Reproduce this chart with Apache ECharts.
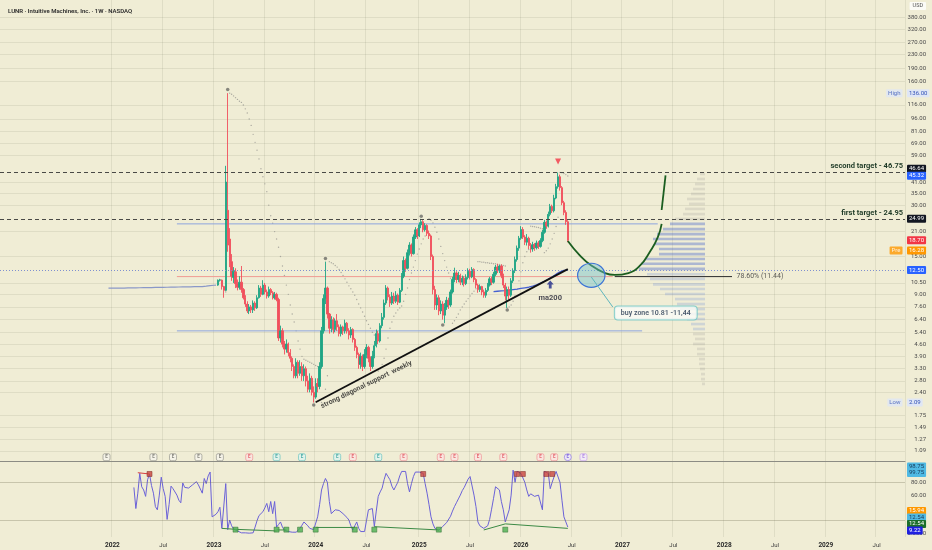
<!DOCTYPE html>
<html><head><meta charset="utf-8">
<script src="https://cdn.jsdelivr.net/npm/echarts@6/dist/echarts.min.js"></script>
<style>html,body{margin:0;padding:0;background:#f0edd5}#c{width:932px;height:550px}</style>
</head><body><div id="c"></div>
<script>
// ---------------- data ----------------
const weekStartUTC = [2020, 10, 30];   // first weekly bar (Mon 2020-11-30)
const weekCount = 463;
const firstLabelYear = 2022;

// pre-merger (SPAC) weekly closes, starting at week index 55
const spacStart = 55;
const spacClose = [9.80,9.78,9.79,9.81,9.80,9.79,9.81,9.82,9.80,9.82,
  9.83,9.81,9.83,9.84,9.83,9.85,9.84,9.86,9.85,9.87,
  9.86,9.88,9.87,9.89,9.88,9.90,9.89,9.91,9.90,9.92,
  9.91,9.93,9.92,9.94,9.93,9.95,9.94,9.96,9.95,9.97,
  9.96,9.98,9.97,9.99,10.00,9.99,10.01,10.02,10.00,10.03,
  10.05,10.08,10.12,10.15,10.18,10.20];

// weekly candles, starting at week index 111
const candleStart = 111;
const opens = [10.2,10.9,10.9,10.0,
  9.5,28,19,14,11.3,12.2,10.4,9.9,10.6,9.6,
  8.6,7.9,7.2,7.6,7.3,8.0,7.5,8.6,9.8,9.0,
  10.2,9.3,8.8,9.6,9.2,8.6,9.0,8.4,5.0,5.5,
  4.6,4.3,4.6,4.1,3.8,3.4,3.0,3.6,3.1,3.4,
  3.0,3.3,2.8,2.5,2.9,2.4,2.25,2.7,2.6,3.4,
  5.5,8.5,9.8,6.9,5.7,6.4,5.6,6.3,5.8,5.3,
  5.8,5.5,6.1,5.5,5.2,5.6,4.9,4.4,4.0,3.5,
  3.9,3.4,4.0,4.4,3.8,3.4,3.9,4.5,5.3,4.8,
  5.9,6.6,8.0,9.8,8.7,8.0,8.8,8.2,8.9,8.1,
  9.5,11.5,14.2,12.8,15.8,17.5,15.6,19.5,21.5,19.8,
  23.0,24.0,21.5,22.8,20.5,19.8,15.0,9.6,7.8,8.6,
  7.2,7.9,6.8,7.6,8.3,7.8,9.3,11.0,12.0,11.0,
  11.6,10.6,11.2,10.4,11.3,12.3,11.4,12.6,11.0,10.2,
  9.6,10.0,9.3,8.9,9.5,10.2,11.1,10.6,11.8,13.0,
  12.4,13.2,11.6,10.2,8.8,9.6,8.9,10.8,12.4,14.4,
  16.8,19.2,21.6,19.5,18.2,19.2,17.4,16.6,17.6,16.9,
  18.0,17.2,18.6,20.8,23.8,22.6,26.5,29.5,27.8,33.0,
  38.5,44.0,38.0,31.0,27.2,24.0];
const closes = [10.9,10.95,10.0,9.5,
  41,17.5,14,11.5,12.3,10.4,9.9,10.6,9.6,8.6,
  7.9,7.2,7.6,7.3,8.0,7.5,8.6,9.8,9.0,10.2,
  9.3,8.8,9.6,9.2,8.6,9.0,8.4,5.0,5.5,4.6,
  4.3,4.6,4.1,3.8,3.4,3.0,3.6,3.1,3.4,3.0,
  3.3,2.8,2.5,2.9,2.4,2.25,2.7,2.6,3.4,5.5,
  8.5,9.8,6.9,5.7,6.4,5.6,6.3,5.8,5.3,5.8,
  5.5,6.1,5.5,5.2,5.6,4.9,4.4,4.0,3.5,3.9,
  3.4,4.0,4.4,3.8,3.4,3.9,4.5,5.3,4.8,5.9,
  6.6,8.0,9.8,8.7,8.0,8.8,8.2,8.9,8.1,9.5,
  11.5,14.2,12.8,15.8,17.5,15.6,19.5,21.5,19.8,23.0,
  24.0,21.5,22.8,20.5,19.8,15.0,9.6,7.8,8.6,7.2,
  7.9,6.8,7.6,8.3,7.8,9.3,11.0,12.0,11.0,11.6,
  10.6,11.2,10.4,11.3,12.3,11.4,12.6,11.0,10.2,9.6,
  10.0,9.3,8.9,9.5,10.2,11.1,10.6,11.8,13.0,12.4,
  13.2,11.6,10.2,8.8,9.6,8.9,10.8,12.4,14.4,16.8,
  19.2,21.6,19.5,18.2,19.2,17.4,16.6,17.6,16.9,18.0,
  17.2,18.6,20.8,23.8,22.6,26.5,29.5,27.8,33.0,38.5,
  44.0,38.0,31.0,27.2,24.0,18.70];
const lows = [10.1,10.7,9.6,8.6,
  9.4,16,13,10.8,10.5,9.8,9.5,9.6,9.2,8.4,
  7.6,7.0,6.9,7.0,7.0,7.2,7.4,8.5,8.7,8.9,
  9.0,8.5,8.6,8.9,8.4,8.4,8.2,4.8,4.7,4.4,
  4.0,4.1,3.9,3.6,3.2,2.9,2.9,2.9,3.0,2.8,
  2.8,2.6,2.4,2.4,2.3,2.09,2.2,2.4,2.5,3.3,
  5.3,7.9,6.5,5.3,5.4,5.3,5.4,5.5,5.1,5.1,
  5.2,5.3,5.3,4.9,5.0,4.7,4.2,3.8,3.3,3.3,
  3.2,3.3,3.8,3.6,3.2,3.3,3.8,4.4,4.6,4.7,
  5.7,6.4,7.8,8.3,7.6,7.8,7.9,8.0,7.8,8.0,
  9.3,11.2,12.2,12.6,15.2,15.0,15.4,19.0,19.0,19.5,
  22.0,20.8,21.0,19.8,19.0,14.3,9.0,7.3,7.3,6.8,
  6.9,6.4,6.1,7.3,7.4,7.6,9.1,10.6,10.5,10.6,
  10.2,10.2,10.0,10.2,11.0,11.0,11.2,10.6,9.8,9.2,
  9.3,8.9,8.6,8.6,9.3,10.0,10.2,10.4,11.5,12.0,
  12.0,11.2,9.8,8.3,7.5,8.4,8.7,10.5,12.0,14.0,
  16.2,18.8,19.0,17.5,17.4,16.6,15.8,16.0,16.2,16.5,
  16.6,16.9,18.2,20.4,21.8,22.2,25.8,27.0,27.2,32.5,
  37.5,36.5,30.0,26.2,23.0,18.2];
const highs = [11.0,11.1,11.0,10.1,
  51,136,22,15.5,13,12.8,11.0,11.5,13.2,9.8,
  8.9,8.2,7.9,7.8,8.3,8.2,8.9,10.2,10.1,10.9,
  10.5,9.6,10.0,9.8,9.4,9.3,9.2,8.6,5.9,5.7,
  4.8,4.9,4.7,4.3,3.9,3.5,3.8,3.7,3.7,3.6,
  3.5,3.4,3.0,3.1,3.0,2.6,2.9,2.9,3.6,5.8,
  9.0,14.0,10.0,7.0,6.7,6.6,6.5,6.9,6.0,6.0,
  5.9,6.4,6.2,5.7,5.8,5.7,5.0,4.5,4.1,4.1,
  4.0,4.3,4.6,4.5,3.9,4.2,4.8,5.6,5.5,6.1,
  7.0,8.4,10.2,10.0,9.0,9.3,9.2,9.4,9.1,9.8,
  12.0,15.0,14.6,16.5,18.2,17.9,20.2,22.3,22.0,23.8,
  24.95,24.5,23.5,23.2,21.3,20.2,15.4,10.1,9.0,8.9,
  8.3,8.2,8.0,8.7,8.6,9.6,11.4,12.9,12.3,12.2,
  11.9,11.6,11.5,11.8,12.8,12.7,13.0,12.8,11.2,10.4,
  10.3,10.1,9.6,9.8,10.5,11.4,11.4,12.2,13.4,13.6,
  13.4,13.5,11.9,10.5,10.0,10.0,11.2,12.8,15.0,17.4,
  19.8,22.6,22.3,20.0,20.3,19.6,18.0,18.3,18.0,18.6,
  18.5,19.2,21.5,24.6,24.4,27.5,30.5,30.2,34.5,40.0,
  46.64,45.32,38.8,31.8,28.0,24.5];

// parabolic SAR dots, starting at week index 115
const sarStart = 115;
const sar = [9.3,null,136,134,131,128,125,122,120,116,
  110,104,96,88,78,70,63,56,49,44,
  40,36,30,26,23.5,21,19,17,15,13.2,
  11.6,10.2,9.0,7.8,6.9,6.2,5.5,4.8,4.3,3.9,
  3.75,3.7,3.65,3.6,3.55,3.5,3.45,3.4,3.35,2.09,
  2.2,2.5,3.0,14.0,13.8,13.6,13.3,13.0,12.6,12.1,
  11.6,11.1,10.6,10.1,9.7,9.3,8.9,8.4,7.9,7.5,
  7.1,6.7,6.3,6.0,5.7,5.4,5.2,5.0,3.2,3.3,
  3.5,3.8,4.3,5.0,5.7,6.2,6.7,7.0,7.3,7.5,
  7.7,8.2,9.0,9.8,11.0,12.0,13.0,14.2,15.5,16.6,
  17.8,19.0,19.8,null,24.95,24.5,23.6,22.3,20.8,19.0,
  17.2,15.6,14.2,13.0,12.0,11.2,6.1,6.3,6.6,6.9,
  7.3,7.6,7.9,8.2,8.5,8.8,9.1,9.4,9.7,14.0,
  14.0,13.9,13.9,13.8,13.8,13.7,13.7,13.6,13.6,13.5,
  13.5,13.4,13.3,13.2,7.5,7.6,7.8,8.2,8.8,9.6,
  10.8,12.2,13.8,15.0,16.0,16.5,22.6,22.5,22.4,22.3,
  22.2,22.0,21.8,15.8,16.2,16.8,17.8,19.0,20.5,22.5,
  25.5,46.64,46.5,46.0,45.3,44.5];

// 200-week moving average, starting at week index 252
const ma200Start = 252;
const ma200 = [9.35,9.37,9.39,9.41,9.43,9.45,9.47,9.50,9.53,9.56,
  9.60,9.63,9.67,9.71,9.75,9.79,9.83,9.87,9.91,9.96,
  10.05,10.14,10.24,10.35,10.47,10.60,10.75,10.90,11.07,11.24,
  11.42,11.62,11.82,12.02,12.20,12.35,12.44,12.48,12.50];

// oscillator (stoch RSI %K), starting at week index 68
const oscStart = 68;
const oscK = [72,39,63,94,73,68,58,84,93,75,
  63,42,37,60,88,70,58,22,45,74,
  70,68,60,52,48,79,72,69,71,74,
  76,78,81,76,73,63,86,78,90,96,
  26,26,30,34,41,8,6,78,6,21,
  12,7,5,4,2,1,1,1,0.5,0.5,
  1,1,10,20,28,30,34,40,47,34,
  50,31,50,10,14,18,10,5,4,3,
  3,2,2,2,5,8,13,18,18,12,
  8,7,6,7,26,45,68,78,86,80,
  50,31,34,37,39,36,33,31,28,25,
  21,12,5,12,18,8,3,3,3,20,
  37,38,39,11,35,58,65,71,84,94,
  89,84,74,68,74,80,90,97,97,97,
  78,65,78,89,96,99,96,94,94,78,
  63,45,26,15,8,5,5,8,11,14,
  17,20,27,35,42,48,54,60,67,72,
  71,85,89,89,60,42,18,12,10,8,
  5,12,22,38,55,73,74,68,50,37,
  18,15,37,60,99,80,97,95,94,92,
  80,68,58,62,63,58,59,60,58,37,
  97,95,94,70,80,89,97,99,80,52,
  26,18,10];

// tick labels
const priceTicks = [380,320,270,230,190,160,116,96,81,69,59,41,35,30,21,15,10.5,9,7.6,6.4,5.4,4.6,3.9,3.3,2.8,2.4,1.75,1.49,1.27,1.09];
const oscTicks = [0,60,80];

// drawn levels and annotations (week index, price)
const secondTarget = 46.75, firstTarget = 24.95, fibLevel = 11.44;
const lastClose = 18.70, preMarket = 16.28, allHigh = 136, allLow = 2.09, maLast = 12.50;
const supportLine = [[161, 2.1], [290, 12.65]];
const upperBlue = [[90, 23.3], [336, 23.3]];
const lowerBlue = [[90, 5.5], [328, 5.5]];
const fibRed = [[90, fibLevel], [313, fibLevel]];
const fibBlack = [[314, fibLevel], [374, fibLevel]];
const pathDown = [[290,18.5],[296,15.3],[302,13.3],[309,12.0],[314,11.7],[321,12.0],[327,13.3],[332,16.0],[336,19.4],[338,23.3]];
const pathUp = [[338,28.1],[340,44.8]];
const buyZone = [295, 309, 9.9, 13.7];
const buyLeader = [[302, 11.38], [313, 7.59]];
const pivots = [[116,143],[166,14.6],[215,25.8],[160,2.02],[226,5.95],[259,7.3]];
const topSignal = [285, 54];

// volume profile (price level, volume)
const vpPrice = [45.7,42.7,39.9,37.3,34.9,32.6,30.5,28.5,26.6,24.9,23.3,21.7,20.3,19.0,17.8,16.6,15.5,14.5,13.6,12.7,11.8,11.1,10.3,9.67,9.04,8.45,7.90,7.38,6.90,6.45,6.03,5.64,5.27,4.93,4.61,4.31,4.02,3.76,3.52,3.29,3.07,2.87,2.69];
const vpVol = [5,8,10,12,14,18,16,20,22,30,35,42,48,52,50,46,46,60,64,66,58,55,52,45,40,30,28,25,22,18,14,12,12,10,12,8,8,6,6,5,4,4,3];

// earnings markers (week index, kind)
const earnIdx = [54,78,88,101,112,127,141,154,172,180,193,206,225,232,244,257,276,283,290,298];
const earnKind = ['p','p','p','p','p','r','t','t','t','r','t','r','r','r','r','r','r','r','n','f'];

// oscillator signals
const oscBull = [120,141,146,153,161,181,191,224,258];
const oscBear = [76,216,264,267,279,282];
const oscBullLines = [[[113,8],[120,6.5]],[[120,6.5],[141,4]],[[141,5.5],[146,5.5]],[[161,9.4],[181,9.4]],[[191,10.6],[224,5.5]],[[247,5.5],[258,15]],[[258,15],[290,8]]];
const oscBearLines = [[[70,95],[76,93]]];

// ---------------- build ----------------
const weeks = [];
const t0 = Date.UTC(weekStartUTC[0], weekStartUTC[1], weekStartUTC[2]);
for (let n = 0; n < weekCount; n++) weeks.push(new Date(t0 + n * 7 * 864e5).toISOString().slice(0, 10));
const isMark = (idx) => {
  const w = weeks[idx]; if (!w) return false;
  const m = w.slice(5, 7);
  if (m !== '01' && m !== '07') return false;
  if (+w.slice(0, 4) < firstLabelYear) return false;
  return idx === 0 || weeks[idx - 1].slice(5, 7) !== m;
};
const gridColor = 'rgba(110,105,80,0.12)';

const candles = opens.map((o, n) => [candleStart + n, o, closes[n], lows[n], highs[n]]);
const spacData = spacClose.map((v, n) => [spacStart + n, v]);
const sarData = sar.map((v, n) => v == null ? null : [sarStart + n, v]).filter(Boolean);
const maData = ma200.map((v, n) => [ma200Start + n, v]);
const oscData = oscK.map((v, n) => [oscStart + n, v]);
const vpData = vpPrice.map((p, n) => [vpVol[n], p]);

const earnStyle = {
  p: {fill: '#f6f4ec', border: '#8d8d86', text: '#6a6a64', sym: 'roundRect'},
  r: {fill: '#fbe3e1', border: '#ef8a8f', text: '#e04a55', sym: 'roundRect'},
  t: {fill: '#dff2ef', border: '#5fc0bd', text: '#2b9c99', sym: 'roundRect'},
  n: {fill: '#ece6fb', border: '#8a6ee8', text: '#6a4ed8', sym: 'circle'},
  f: {fill: '#f3eafd', border: '#c39af0', text: '#a170e0', sym: 'roundRect'}
};
const earnData = earnIdx.map((i, n) => {
  const s = earnStyle[earnKind[n]];
  return {value: [i, 1.0], symbol: s.sym, itemStyle: {color: s.fill, borderColor: s.border, borderWidth: 0.8},
    label: {show: true, formatter: 'E', color: s.text, fontSize: 4.5, fontWeight: 'bold'}};
});

const note = (at, text, label) => ({value: at, label: Object.assign({show: true, formatter: text}, label)});
const badge = (bg, fg) => ({backgroundColor: bg, color: fg, padding: [1, 2], fontSize: 6, borderRadius: 1});

const vpColor = (p) => p > 24.5 ? 'rgba(160,160,155,0.25)' : (p > 12.3 ? 'rgba(92,118,205,0.45)' : (p > 5.45 ? 'rgba(120,146,215,0.28)' : 'rgba(160,160,155,0.25)'));

const lineSeries = (data, color, width, extra) => Object.assign({
  type: 'line', xAxisIndex: 0, yAxisIndex: 0, data, symbol: 'none', silent: true,
  lineStyle: {color, width}, z: 3
}, extra || {});

const series = [
  // volume profile
  {type: 'custom', xAxisIndex: 2, yAxisIndex: 2, data: vpData, silent: true, z: 1,
    encode: {x: 0, y: 1},
    renderItem: (params, api) => {
      const v = api.value(0), p = api.value(1);
      const a = api.coord([0, p * 1.018]), b = api.coord([v, p / 1.018]);
      return {type: 'rect', shape: {x: b[0], y: a[1], width: a[0] - b[0], height: b[1] - a[1]}, style: {fill: vpColor(p)}};
    }},
  // horizontal drawn levels
  lineSeries(upperBlue, '#8ea4de', 1),
  lineSeries(lowerBlue, '#8ea4de', 1),
  lineSeries(fibRed, '#f09a92', 1),
  lineSeries(fibBlack, '#2a2a2a', 1),
  // SPAC line
  lineSeries(spacData, '#8a98c8', 1.2),
  // SAR dots
  {type: 'scatter', xAxisIndex: 0, yAxisIndex: 0, data: sarData, symbolSize: 1.4, silent: true,
    itemStyle: {color: '#9a9992'}, z: 2},
  // candles
  {type: 'candlestick', xAxisIndex: 0, yAxisIndex: 0, data: candles, barWidth: 1.8, silent: true, z: 4,
    large: false, progressive: 0,
    dimensions: ['t', 'open', 'close', 'lowest', 'highest'],
    encode: {x: 't', y: ['open', 'close', 'lowest', 'highest']},
    itemStyle: {color: '#1fa584', color0: '#f0505c', borderColor: '#1fa584', borderColor0: '#f0505c', borderWidth: 0.9},
    markLine: {silent: true, symbol: ['none', 'none'], animation: false,
      data: [
        {yAxis: secondTarget, lineStyle: {type: [4, 3], color: '#4a4a46', width: 1.2},
          label: {position: 'insideEndTop', distance: 2, formatter: 'second target - 46.75', color: '#1e3a26', fontSize: 7.5, fontWeight: 'bold'}},
        {yAxis: firstTarget, lineStyle: {type: [4, 3], color: '#4a4a46', width: 1.2},
          label: {position: 'insideEndTop', distance: 2, formatter: 'first target - 24.95', color: '#1e3a26', fontSize: 7.5, fontWeight: 'bold'}},
        {yAxis: secondTarget, lineStyle: {color: 'transparent'},
          label: {position: 'end', distance: 2, formatter: '{k|46.64}\n{b|45.32}', lineHeight: 7,
            rich: {k: badge('#131722', '#fff'), b: badge('#2962ff', '#fff')}}},
        {yAxis: firstTarget, lineStyle: {color: 'transparent'},
          label: Object.assign({position: 'end', distance: 2, formatter: '24.99'}, badge('#131722', '#fff'))},
        {yAxis: lastClose, lineStyle: {color: 'transparent'},
          label: Object.assign({position: 'end', distance: 2, formatter: '18.70'}, badge('#f23645', '#fff'))},
        {yAxis: preMarket, lineStyle: {color: 'transparent'},
          label: Object.assign({position: 'end', distance: 2, formatter: '16.28'}, badge('#ff9800', '#fff'))},
        {yAxis: allHigh, lineStyle: {color: 'transparent'},
          label: Object.assign({position: 'end', distance: 2, formatter: '136.00'}, badge('#dfe6f5', '#3352b8'))},
        {yAxis: allLow, lineStyle: {color: 'transparent'},
          label: Object.assign({position: 'end', distance: 2, formatter: '2.09'}, badge('#dfe6f5', '#3352b8'))}
      ]}},
  // ma200
  lineSeries(maData, '#4460d2', 1.3, {markLine: {silent: true, symbol: ['none', 'none'],
    data: [{yAxis: maLast, lineStyle: {type: [1, 2], color: '#7f90cf', width: 1},
      label: Object.assign({position: 'end', distance: 2, formatter: '12.50'}, badge('#2962ff', '#fff'))}]}}),
  // diagonal support
  lineSeries(supportLine, '#111', 1.8, {z: 5}),
  // projected path
  lineSeries(pathDown, '#1b5e20', 1.8, {smooth: 0.5, z: 6}),
  lineSeries(pathUp, '#1b5e20', 1.8, {z: 6}),
  // buy zone ellipse
  {type: 'custom', xAxisIndex: 0, yAxisIndex: 0, data: [buyZone], silent: true, z: 7,
    encode: {x: [0, 1], y: [2, 3]},
    renderItem: (params, api) => {
      const p1 = api.coord([api.value(0), api.value(3)]);
      const p2 = api.coord([api.value(1), api.value(2)]);
      return {type: 'ellipse', shape: {cx: (p1[0] + p2[0]) / 2, cy: (p1[1] + p2[1]) / 2, rx: Math.abs(p2[0] - p1[0]) / 2, ry: Math.abs(p2[1] - p1[1]) / 2},
        style: {fill: 'rgba(110,192,205,0.45)', stroke: '#3b73d6', lineWidth: 1.2}};
    }},
  lineSeries(buyLeader, '#5fb6bd', 1, {z: 7}),
  // pivots
  {type: 'scatter', xAxisIndex: 0, yAxisIndex: 0, data: pivots, symbolSize: 3.5, silent: true, itemStyle: {color: '#6b6b66'}, z: 5},
  // top signal & ma arrow
  {type: 'scatter', xAxisIndex: 0, yAxisIndex: 0, silent: true, z: 8,
    data: [
      {value: topSignal, symbol: 'triangle', symbolRotate: 180, symbolSize: 6, itemStyle: {color: '#f23645'}},
      {value: [281, 10.3], symbol: 'path://M5,0 L10,5 L7,5 L7,10 L3,10 L3,5 L0,5 Z', symbolSize: [7, 8], itemStyle: {color: '#1f2a8a'}}
    ]},
  // earnings
  {type: 'scatter', xAxisIndex: 0, yAxisIndex: 0, data: earnData, symbolSize: 7, silent: true, z: 8},
  // text annotations
  {type: 'scatter', xAxisIndex: 0, yAxisIndex: 0, symbolSize: 1, silent: true, z: 9,
    itemStyle: {color: 'transparent'},
    data: [
      note([281, 8.6], 'ma200', {position: 'inside', fontSize: 7.5, fontWeight: 'bold', color: '#1c1c2e'}),
      note([187, 2.66], 'strong diagonal support  weekly', {position: 'inside', rotate: 26, fontSize: 7, fontWeight: 'bold', color: '#1f1f1f'}),
      note(fibBlack[1], '78.60% (11.44)', {position: 'right', distance: 4, fontSize: 7, color: '#333'}),
      note([335, 7.0], 'buy zone 10.81 -11,44', {position: 'inside', fontSize: 7, fontWeight: 600, color: '#1c2f4a',
        backgroundColor: '#fbfbf8', borderColor: '#6cc6c4', borderWidth: 1, borderRadius: 3, padding: [3, 6]}),
      note([462, allHigh], 'High', Object.assign({position: 'left', distance: 1}, badge('#dfe6f5', '#3352b8'))),
      note([462, allLow], 'Low', Object.assign({position: 'left', distance: 1}, badge('#dfe6f5', '#3352b8'))),
      note([462, preMarket], 'Pre', Object.assign({position: 'left', distance: 1}, badge('#ff9800', '#fff')))
    ]},
  // oscillator
  {type: 'line', xAxisIndex: 1, yAxisIndex: 1, data: oscData, symbol: 'none', silent: true,
    lineStyle: {color: '#6b62d8', width: 1}, z: 3,
    markLine: {silent: true, symbol: ['none', 'none'],
      data: [
        {yAxis: 80, lineStyle: {type: 'solid', color: 'rgba(110,105,80,0.3)', width: 1}, label: {show: false}},
        {yAxis: 20, lineStyle: {type: 'solid', color: 'rgba(110,105,80,0.3)', width: 1},
          label: {position: 'end', distance: 2, formatter: '{o|15.94}\n{c|12.54}\n{g|12.54}\n{b|9.22}', lineHeight: 6.5,
            rich: {o: badge('#ff9800', '#fff'), c: badge('#4fb9e3', '#173a5a'), g: badge('#1b6e2a', '#fff'), b: badge('#1f1fe0', '#fff')}}},
        {yAxis: 99.75, lineStyle: {color: 'transparent'},
          label: {position: 'end', distance: 2, formatter: '{c|98.75}\n{c|99.75}', lineHeight: 6.5,
            rich: {c: badge('#4fb9e3', '#173a5a')}}}
      ]}},
  ...oscBullLines.map(seg => ({type: 'line', xAxisIndex: 1, yAxisIndex: 1, data: seg, symbol: 'none', silent: true, lineStyle: {color: '#3c8a45', width: 1}, z: 4})),
  ...oscBearLines.map(seg => ({type: 'line', xAxisIndex: 1, yAxisIndex: 1, data: seg, symbol: 'none', silent: true, lineStyle: {color: '#d84040', width: 1}, z: 4})),
  {type: 'scatter', xAxisIndex: 1, yAxisIndex: 1, silent: true, z: 5, symbol: 'rect', symbolSize: 5,
    data: oscBull.map(i => [i, 6]), itemStyle: {color: '#4caf50', borderColor: '#2e6b32', borderWidth: 0.6}},
  {type: 'scatter', xAxisIndex: 1, yAxisIndex: 1, silent: true, z: 5, symbol: 'rect', symbolSize: 5,
    data: oscBear.map(i => [i, 93]), itemStyle: {color: '#c8453f', borderColor: '#7a2420', borderWidth: 0.6}}
];

const option = {
  animation: false,
  backgroundColor: '#f0edd5',
  textStyle: {fontFamily: 'Roboto, "DejaVu Sans", sans-serif'},
  title: [
    {text: 'LUNR · Intuitive Machines, Inc. · 1W · NASDAQ', left: 3, top: 3, textStyle: {fontSize: 6, fontWeight: 600, color: '#2a2a2a'}},
    {text: 'USD', right: 6, top: 2, backgroundColor: '#fbfbf6', padding: [1, 3], borderRadius: 1, textStyle: {fontSize: 5.5, color: '#555', fontWeight: 400}}
  ],
  grid: [
    {left: 0, right: 27, top: 0, height: 461},
    {left: 0, right: 27, top: 461, height: 76},
    {left: 600, right: 227, top: 0, height: 461}
  ],
  xAxis: [
    {type: 'category', gridIndex: 0, data: weeks, axisLabel: {show: false}, axisTick: {show: false}, axisLine: {show: false},
      splitLine: {show: true, interval: (i) => isMark(i), lineStyle: {color: gridColor}}},
    {type: 'category', gridIndex: 1, data: weeks, position: 'bottom', axisTick: {show: false}, axisLine: {show: false},
      axisLabel: {interval: (i) => isMark(i), margin: 5,
        formatter: (v) => v.slice(5, 7) === '01' ? '{y|' + v.slice(0, 4) + '}' : '{m|Jul}',
        rich: {y: {fontSize: 6.5, fontWeight: 'bold', color: '#2a2a2a'}, m: {fontSize: 6, color: '#3a3a3a'}}},
      splitLine: {show: true, interval: (i) => isMark(i), lineStyle: {color: gridColor}}},
    {type: 'value', gridIndex: 2, min: 0, max: 105, inverse: true, show: false},
    {type: 'category', gridIndex: 1, data: weeks, position: 'top', axisLine: {show: true, lineStyle: {color: '#8c8c84', width: 1}},
      axisLabel: {show: false}, axisTick: {show: false}, splitLine: {show: false}}
  ],
  yAxis: [
    {type: 'log', gridIndex: 0, logBase: 10, min: 0.95, max: 478, position: 'right',
      axisLine: {show: false}, axisTick: {show: false, customValues: priceTicks},
      axisLabel: {customValues: priceTicks, formatter: (v) => (+v).toFixed(2), fontSize: 6, color: '#4a4a4a', align: 'right', margin: 21},
      splitLine: {show: true, lineStyle: {color: gridColor}}},
    {type: 'value', gridIndex: 1, min: -5.5, max: 113.3, position: 'right',
      axisLine: {show: false}, axisTick: {show: false}, splitLine: {show: false},
      axisLabel: {customValues: oscTicks, formatter: (v) => v === 0 ? '0.0000' : (+v).toFixed(2), fontSize: 6, color: '#4a4a4a', align: 'right', margin: 21}},
    {type: 'log', gridIndex: 2, logBase: 10, min: 0.95, max: 478, show: false}
  ],
  series
};
const chart = echarts.init(document.getElementById('c'));
chart.setOption(option);
</script>
</body></html>
